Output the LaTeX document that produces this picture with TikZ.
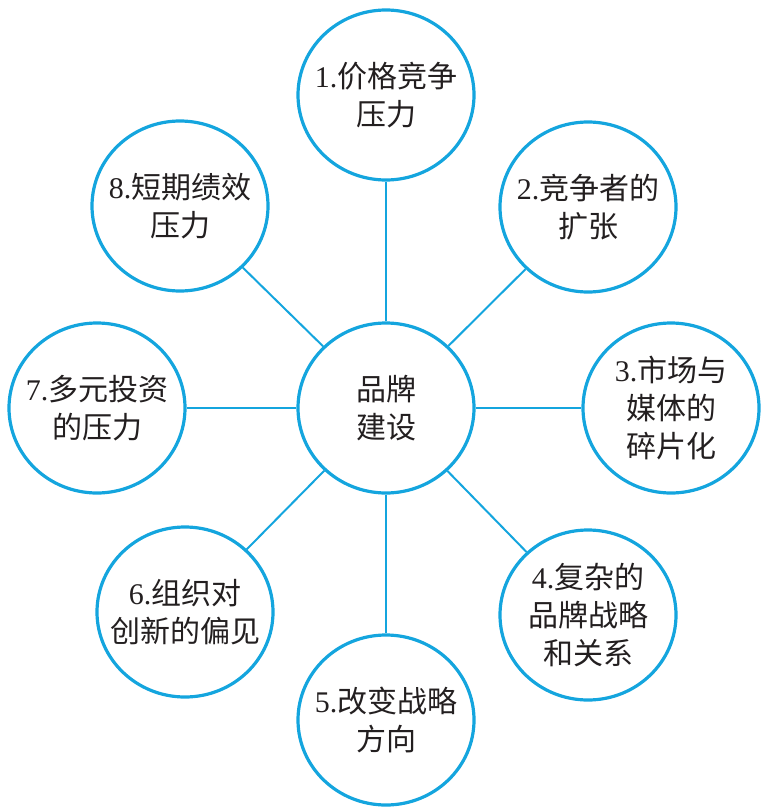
\documentclass[tikz,border=0pt]{standalone}
\usepackage{fontspec}
\setmainfont{Liberation Serif}
\newfontfamily\cjk{Noto Sans CJK SC}
\usetikzlibrary{shapes.geometric}
\definecolor{cblue}{RGB}{20,165,222}
\definecolor{ink}{RGB}{35,31,32}
\newcommand{\num}[1]{{\rmfamily #1.}}
\begin{document}
\begin{tikzpicture}[x=1pt,y=-1pt,
  bub/.style={ellipse, draw=cblue, line width=3.2pt, minimum width=176pt, minimum height=170pt, inner sep=0pt},
  txt/.style={align=center, text=ink, inner sep=0pt, font=\fontsize{30}{38}\selectfont\cjk},
  conn/.style={draw=cblue, line width=2pt}]
\useasboundingbox (0,0) rectangle (761,808);
\node[bub] (c) at (386,408) {};
\node[bub] (n1) at (386,95) {};
\node[bub] (n2) at (588,207) {};
\node[bub] (n3) at (671,408) {};
\node[bub] (n4) at (588,615) {};
\node[bub] (n5) at (386,720) {};
\node[bub] (n6) at (185,612) {};
\node[bub] (n7) at (97,408) {};
\node[bub] (n8) at (180,206) {};
\node[txt] (tc) at (c) {品牌\\建设};
\node[txt] (t1) at (n1) {\num{1}价格竞争\\压力};
\node[txt] (t2) at (n2) {\num{2}竞争者的\\扩张};
\node[txt] (t3) at (n3) {\num{3}市场与\\媒体的\\碎片化};
\node[txt] (t4) at (n4) {\num{4}复杂的\\品牌战略\\和关系};
\node[txt] (t5) at (n5) {\num{5}改变战略\\方向};
\node[txt] (t6) at (n6) {\num{6}组织对\\创新的偏见};
\node[txt] (t7) at (n7) {\num{7}多元投资\\的压力};
\node[txt] (t8) at (n8) {\num{8}短期绩效\\压力};
\foreach \k in {1,...,8} {\draw[conn] (c) -- (n\k);}
\end{tikzpicture}
\end{document}
